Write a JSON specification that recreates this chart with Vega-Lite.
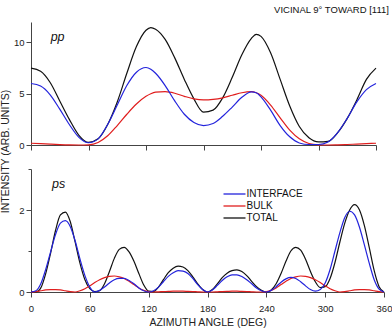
{
  "$schema": "https://vega.github.io/schema/vega-lite/v6.json",
  "padding": {"left": 0, "top": 4, "right": 0, "bottom": 2},
  "title": {"text": "VICINAL 9° TOWARD [111]", "anchor": "end", "fontSize": 9.5, "fontWeight": "normal", "color": "#111", "offset": 8, "dx": -3},
  "config": {
    "font": "Liberation Sans",
    "view": {"stroke": null},
    "axis": {
      "grid": false,
      "labelFlush": false,
      "labelFontSize": 9.5,
      "labelColor": "#222",
      "domainColor": "#444",
      "tickColor": "#444",
      "titleFontSize": 10.5,
      "titleFontWeight": "normal",
      "titleColor": "#222"
    },
    "legend": {"labelFontSize": 10, "labelColor": "#111"}
  },
  "datasets": {
    "pp": [
      {"angle": 0, "INTERFACE": 6.0, "BULK": 0.17, "TOTAL": 7.5},
      {"angle": 10, "INTERFACE": 5.75, "BULK": 0.13, "TOTAL": 7.2},
      {"angle": 20, "INTERFACE": 4.9, "BULK": 0.08, "TOTAL": 6.1},
      {"angle": 30, "INTERFACE": 3.5, "BULK": 0.04, "TOTAL": 4.3},
      {"angle": 40, "INTERFACE": 2.0, "BULK": 0.01, "TOTAL": 2.5},
      {"angle": 50, "INTERFACE": 0.75, "BULK": 0.0, "TOTAL": 0.95},
      {"angle": 60, "INTERFACE": 0.22, "BULK": 0.02, "TOTAL": 0.25},
      {"angle": 70, "INTERFACE": 0.6, "BULK": 0.25, "TOTAL": 0.6},
      {"angle": 80, "INTERFACE": 2.0, "BULK": 0.9, "TOTAL": 2.0},
      {"angle": 90, "INTERFACE": 3.9, "BULK": 1.9, "TOTAL": 4.2},
      {"angle": 100, "INTERFACE": 5.8, "BULK": 3.0, "TOTAL": 7.0},
      {"angle": 110, "INTERFACE": 7.1, "BULK": 4.0, "TOTAL": 9.6},
      {"angle": 120, "INTERFACE": 7.56, "BULK": 4.75, "TOTAL": 11.2},
      {"angle": 125, "INTERFACE": 7.4, "BULK": 5.0, "TOTAL": 11.46},
      {"angle": 130, "INTERFACE": 7.0, "BULK": 5.15, "TOTAL": 11.3},
      {"angle": 140, "INTERFACE": 5.8, "BULK": 5.2, "TOTAL": 10.3},
      {"angle": 150, "INTERFACE": 4.3, "BULK": 5.05, "TOTAL": 8.5},
      {"angle": 160, "INTERFACE": 3.0, "BULK": 4.75, "TOTAL": 6.4},
      {"angle": 170, "INTERFACE": 2.2, "BULK": 4.5, "TOTAL": 4.5},
      {"angle": 180, "INTERFACE": 1.9, "BULK": 4.4, "TOTAL": 3.2},
      {"angle": 190, "INTERFACE": 2.1, "BULK": 4.45, "TOTAL": 3.4},
      {"angle": 200, "INTERFACE": 2.8, "BULK": 4.6, "TOTAL": 4.6},
      {"angle": 210, "INTERFACE": 3.7, "BULK": 4.85, "TOTAL": 6.6},
      {"angle": 220, "INTERFACE": 4.65, "BULK": 5.1, "TOTAL": 8.8},
      {"angle": 230, "INTERFACE": 5.18, "BULK": 5.2, "TOTAL": 10.4},
      {"angle": 235, "INTERFACE": 5.1, "BULK": 5.1, "TOTAL": 10.8},
      {"angle": 240, "INTERFACE": 4.7, "BULK": 4.85, "TOTAL": 10.6},
      {"angle": 250, "INTERFACE": 3.4, "BULK": 3.9, "TOTAL": 9.0},
      {"angle": 260, "INTERFACE": 1.9, "BULK": 2.65, "TOTAL": 6.4},
      {"angle": 270, "INTERFACE": 0.8, "BULK": 1.45, "TOTAL": 3.8},
      {"angle": 280, "INTERFACE": 0.2, "BULK": 0.6, "TOTAL": 1.8},
      {"angle": 290, "INTERFACE": 0.05, "BULK": 0.15, "TOTAL": 0.7},
      {"angle": 300, "INTERFACE": 0.05, "BULK": 0.02, "TOTAL": 0.3},
      {"angle": 310, "INTERFACE": 0.3, "BULK": 0.0, "TOTAL": 0.35},
      {"angle": 320, "INTERFACE": 1.2, "BULK": 0.02, "TOTAL": 1.2},
      {"angle": 330, "INTERFACE": 2.6, "BULK": 0.05, "TOTAL": 2.6},
      {"angle": 340, "INTERFACE": 4.2, "BULK": 0.09, "TOTAL": 4.4},
      {"angle": 350, "INTERFACE": 5.4, "BULK": 0.13, "TOTAL": 6.4},
      {"angle": 360, "INTERFACE": 6.0, "BULK": 0.17, "TOTAL": 7.5}
    ],
    "ps": [
      {"angle": 0, "INTERFACE": 0.0, "BULK": 0.0, "TOTAL": 0.0},
      {"angle": 5, "INTERFACE": 0.03, "BULK": 0.01, "TOTAL": 0.0},
      {"angle": 10, "INTERFACE": 0.2, "BULK": 0.03, "TOTAL": 0.1},
      {"angle": 15, "INTERFACE": 0.55, "BULK": 0.05, "TOTAL": 0.45},
      {"angle": 20, "INTERFACE": 0.98, "BULK": 0.06, "TOTAL": 0.95},
      {"angle": 25, "INTERFACE": 1.4, "BULK": 0.06, "TOTAL": 1.5},
      {"angle": 30, "INTERFACE": 1.68, "BULK": 0.05, "TOTAL": 1.88},
      {"angle": 35, "INTERFACE": 1.74, "BULK": 0.03, "TOTAL": 1.95},
      {"angle": 40, "INTERFACE": 1.6, "BULK": 0.01, "TOTAL": 1.72},
      {"angle": 45, "INTERFACE": 1.25, "BULK": 0.0, "TOTAL": 1.22},
      {"angle": 50, "INTERFACE": 0.8, "BULK": 0.03, "TOTAL": 0.7},
      {"angle": 55, "INTERFACE": 0.4, "BULK": 0.08, "TOTAL": 0.3},
      {"angle": 60, "INTERFACE": 0.12, "BULK": 0.15, "TOTAL": 0.08},
      {"angle": 65, "INTERFACE": 0.0, "BULK": 0.23, "TOTAL": 0.01},
      {"angle": 70, "INTERFACE": 0.04, "BULK": 0.3, "TOTAL": 0.03},
      {"angle": 75, "INTERFACE": 0.12, "BULK": 0.35, "TOTAL": 0.2},
      {"angle": 80, "INTERFACE": 0.22, "BULK": 0.38, "TOTAL": 0.5},
      {"angle": 85, "INTERFACE": 0.3, "BULK": 0.39, "TOTAL": 0.82},
      {"angle": 90, "INTERFACE": 0.33, "BULK": 0.37, "TOTAL": 1.04},
      {"angle": 95, "INTERFACE": 0.33, "BULK": 0.33, "TOTAL": 1.09},
      {"angle": 100, "INTERFACE": 0.28, "BULK": 0.26, "TOTAL": 0.98},
      {"angle": 105, "INTERFACE": 0.2, "BULK": 0.18, "TOTAL": 0.75},
      {"angle": 110, "INTERFACE": 0.1, "BULK": 0.1, "TOTAL": 0.45},
      {"angle": 115, "INTERFACE": 0.03, "BULK": 0.04, "TOTAL": 0.17},
      {"angle": 120, "INTERFACE": 0.0, "BULK": 0.01, "TOTAL": 0.02},
      {"angle": 125, "INTERFACE": 0.03, "BULK": 0.0, "TOTAL": 0.01},
      {"angle": 130, "INTERFACE": 0.12, "BULK": 0.005, "TOTAL": 0.12},
      {"angle": 135, "INTERFACE": 0.25, "BULK": 0.01, "TOTAL": 0.3},
      {"angle": 140, "INTERFACE": 0.38, "BULK": 0.015, "TOTAL": 0.47},
      {"angle": 145, "INTERFACE": 0.47, "BULK": 0.02, "TOTAL": 0.58},
      {"angle": 150, "INTERFACE": 0.52, "BULK": 0.02, "TOTAL": 0.63},
      {"angle": 155, "INTERFACE": 0.51, "BULK": 0.02, "TOTAL": 0.61},
      {"angle": 160, "INTERFACE": 0.45, "BULK": 0.015, "TOTAL": 0.52},
      {"angle": 165, "INTERFACE": 0.33, "BULK": 0.01, "TOTAL": 0.37},
      {"angle": 170, "INTERFACE": 0.18, "BULK": 0.005, "TOTAL": 0.2},
      {"angle": 175, "INTERFACE": 0.06, "BULK": 0.0, "TOTAL": 0.06},
      {"angle": 180, "INTERFACE": 0.0, "BULK": 0.0, "TOTAL": 0.0},
      {"angle": 185, "INTERFACE": 0.05, "BULK": 0.0, "TOTAL": 0.06},
      {"angle": 190, "INTERFACE": 0.16, "BULK": 0.005, "TOTAL": 0.2},
      {"angle": 195, "INTERFACE": 0.28, "BULK": 0.01, "TOTAL": 0.35},
      {"angle": 200, "INTERFACE": 0.37, "BULK": 0.015, "TOTAL": 0.46},
      {"angle": 205, "INTERFACE": 0.42, "BULK": 0.02, "TOTAL": 0.52},
      {"angle": 210, "INTERFACE": 0.42, "BULK": 0.02, "TOTAL": 0.54},
      {"angle": 215, "INTERFACE": 0.38, "BULK": 0.015, "TOTAL": 0.5},
      {"angle": 220, "INTERFACE": 0.3, "BULK": 0.01, "TOTAL": 0.4},
      {"angle": 225, "INTERFACE": 0.2, "BULK": 0.005, "TOTAL": 0.26},
      {"angle": 230, "INTERFACE": 0.1, "BULK": 0.0, "TOTAL": 0.13},
      {"angle": 235, "INTERFACE": 0.03, "BULK": 0.0, "TOTAL": 0.04},
      {"angle": 240, "INTERFACE": 0.0, "BULK": 0.01, "TOTAL": 0.0},
      {"angle": 245, "INTERFACE": 0.04, "BULK": 0.04, "TOTAL": 0.05},
      {"angle": 250, "INTERFACE": 0.13, "BULK": 0.1, "TOTAL": 0.2},
      {"angle": 255, "INTERFACE": 0.24, "BULK": 0.18, "TOTAL": 0.45},
      {"angle": 260, "INTERFACE": 0.32, "BULK": 0.26, "TOTAL": 0.75},
      {"angle": 265, "INTERFACE": 0.355, "BULK": 0.33, "TOTAL": 1.0},
      {"angle": 270, "INTERFACE": 0.33, "BULK": 0.37, "TOTAL": 1.09},
      {"angle": 275, "INTERFACE": 0.25, "BULK": 0.39, "TOTAL": 1.02},
      {"angle": 280, "INTERFACE": 0.15, "BULK": 0.38, "TOTAL": 0.8},
      {"angle": 285, "INTERFACE": 0.06, "BULK": 0.35, "TOTAL": 0.5},
      {"angle": 290, "INTERFACE": 0.02, "BULK": 0.3, "TOTAL": 0.25},
      {"angle": 295, "INTERFACE": 0.06, "BULK": 0.23, "TOTAL": 0.11},
      {"angle": 300, "INTERFACE": 0.22, "BULK": 0.15, "TOTAL": 0.13},
      {"angle": 305, "INTERFACE": 0.55, "BULK": 0.08, "TOTAL": 0.33},
      {"angle": 310, "INTERFACE": 1.0, "BULK": 0.03, "TOTAL": 0.72},
      {"angle": 315, "INTERFACE": 1.45, "BULK": 0.0, "TOTAL": 1.22},
      {"angle": 320, "INTERFACE": 1.82, "BULK": 0.01, "TOTAL": 1.68},
      {"angle": 325, "INTERFACE": 1.97, "BULK": 0.03, "TOTAL": 2.0},
      {"angle": 330, "INTERFACE": 1.88, "BULK": 0.05, "TOTAL": 2.13},
      {"angle": 335, "INTERFACE": 1.58, "BULK": 0.06, "TOTAL": 2.0},
      {"angle": 340, "INTERFACE": 1.15, "BULK": 0.06, "TOTAL": 1.62},
      {"angle": 345, "INTERFACE": 0.7, "BULK": 0.05, "TOTAL": 1.08},
      {"angle": 350, "INTERFACE": 0.3, "BULK": 0.03, "TOTAL": 0.52},
      {"angle": 355, "INTERFACE": 0.07, "BULK": 0.01, "TOTAL": 0.13},
      {"angle": 360, "INTERFACE": 0.0, "BULK": 0.0, "TOTAL": 0.0}
    ]
  },
  "bounds": "flush",
  "spacing": 24,
  "resolve": {"scale": {"x": "independent", "y": "independent", "color": "independent"}},
  "vconcat": [
    {
      "width": 345,
      "height": 123,
      "layer": [
        {
          "data": {"name": "pp"},
          "transform": [{"fold": ["TOTAL", "BULK", "INTERFACE"], "as": ["series", "intensity"]}],
          "mark": {"type": "line", "interpolate": "monotone", "strokeWidth": 1.2},
          "encoding": {
            "x": {
              "field": "angle", "type": "quantitative",
              "scale": {"domain": [0, 360], "nice": false},
              "axis": {
                "values": [0, 30, 60, 90, 120, 150, 180, 210, 240, 270, 300, 330, 360],
                "labels": false, "title": null,
                "tickSize": {"condition": {"test": "datum.value % 60 !== 0", "value": 3}, "value": 5}
              }
            },
            "y": {
              "field": "intensity", "type": "quantitative",
              "scale": {"domain": [0, 12], "nice": false},
              "axis": {
                "values": [0, 2.5, 5, 7.5, 10],
                "labelExpr": "datum.value % 5 ? '' : datum.label",
                "labelPadding": 2,
                "tickSize": {"condition": {"test": "datum.value % 5 !== 0", "value": 3}, "value": 5},
                "title": "INTENSITY (ARB. UNITS)",
                "titleX": -21,
                "titleY": 129
              }
            },
            "color": {
              "field": "series", "type": "nominal",
              "scale": {"domain": ["INTERFACE", "BULK", "TOTAL"], "range": ["#2323dc", "#e01e1e", "#111111"]},
              "legend": null
            }
          }
        },
        {
          "data": {"values": [{"angle": 20.5, "intensity": 10.1, "label": "pp"}]},
          "mark": {"type": "text", "align": "left", "baseline": "alphabetic", "fontStyle": "italic", "fontSize": 12.5, "color": "#111"},
          "encoding": {
            "x": {"field": "angle", "type": "quantitative"},
            "y": {"field": "intensity", "type": "quantitative"},
            "text": {"field": "label"}
          }
        }
      ]
    },
    {
      "width": 353,
      "height": 123,
      "layer": [
        {
          "data": {"name": "ps"},
          "transform": [{"fold": ["TOTAL", "BULK", "INTERFACE"], "as": ["series", "intensity"]}],
          "mark": {"type": "line", "interpolate": "monotone", "strokeWidth": 1.2},
          "encoding": {
            "x": {
              "field": "angle", "type": "quantitative",
              "scale": {"domain": [0, 360], "nice": false},
              "axis": {
                "values": [0, 30, 60, 90, 120, 150, 180, 210, 240, 270, 300, 330, 360],
                "labelExpr": "datum.value % 60 ? '' : datum.label",
                "labelPadding": 6,
                "tickSize": {"condition": {"test": "datum.value % 60 !== 0", "value": 3}, "value": 5},
                "title": "AZIMUTH ANGLE (DEG)",
                "titlePadding": 5
              }
            },
            "y": {
              "field": "intensity", "type": "quantitative",
              "scale": {"domain": [0, 3], "nice": false},
              "axis": {
                "values": [0, 1, 2, 3],
                "labelExpr": "datum.value % 2 ? '' : datum.label",
                "labelPadding": 2,
                "tickSize": {"condition": {"test": "datum.value % 2 !== 0", "value": 3}, "value": 5},
                "title": null
              }
            },
            "color": {
              "field": "series", "type": "nominal",
              "scale": {"domain": ["INTERFACE", "BULK", "TOTAL"], "range": ["#2323dc", "#e01e1e", "#111111"]},
              "legend": {
                "title": null,
                "orient": "none",
                "legendX": 197,
                "legendY": 18.5,
                "padding": 0,
                "symbolType": "M-2,0H2",
                "symbolSize": 121,
                "symbolStrokeWidth": 1.3,
                "symbolFillColor": "transparent",
                "labelOffset": 5.5,
                "rowPadding": -1
              }
            }
          }
        },
        {
          "data": {"values": [{"angle": 21.5, "intensity": 2.54, "label": "ps"}]},
          "mark": {"type": "text", "align": "left", "baseline": "alphabetic", "fontStyle": "italic", "fontSize": 12.5, "color": "#111"},
          "encoding": {
            "x": {"field": "angle", "type": "quantitative"},
            "y": {"field": "intensity", "type": "quantitative"},
            "text": {"field": "label"}
          }
        }
      ]
    }
  ]
}
